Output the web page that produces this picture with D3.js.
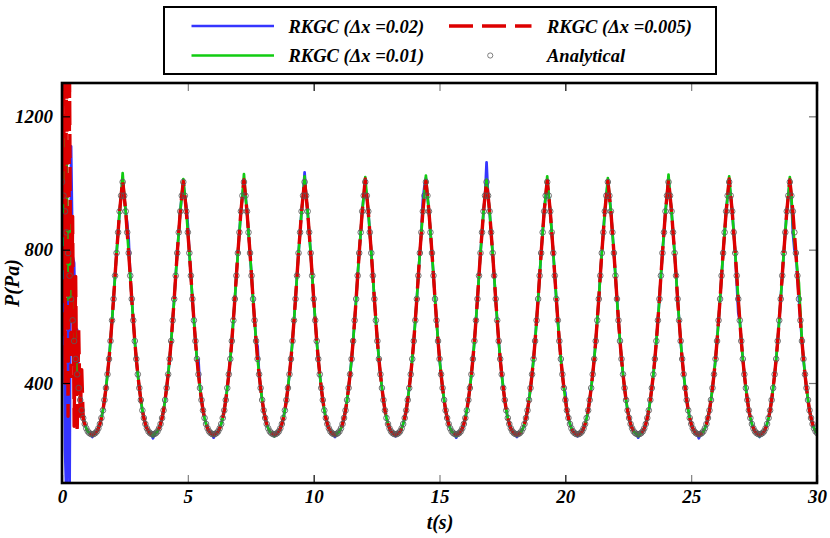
<!DOCTYPE html>
<html>
<head>
<meta charset="utf-8">
<script src="https://cdn.jsdelivr.net/npm/d3@7"></script>
<style>
  body { margin: 0; background: #fff; }
  svg text { font-family: "Liberation Serif", "Times New Roman", serif; font-weight: bold; font-style: italic; }
</style>
</head>
<body>
<div id="container"></div>
<script>
let w = 830;
let h = 538;

// every series is sampled on the same time grid: t = i * dt (s)
let dt = 0.06025;

let xTicks = [0, 5, 10, 15, 20, 25, 30];
let xMajor = [0, 10, 20, 30];
let yTicks = [400, 800, 1200];

// pressure values P(Pa), one row per cycle
let analytical = [
  1003,962,915,852,790,722,652,588,526,472,426,385,349,318,295,277,264,255,250,247,246,247,250,255,264,277,295,318,349,385,426,472,526,588,652,722,790,852,915,962,
  1003,962,915,852,790,722,652,588,526,472,426,385,349,318,295,277,264,255,250,247,246,247,250,255,264,277,295,318,349,385,426,472,526,588,652,722,790,852,915,962,
  1003,962,915,852,790,722,652,588,526,472,426,385,349,318,295,277,264,255,250,247,246,247,250,255,264,277,295,318,349,385,426,472,526,588,652,722,790,852,915,962,
  1003,962,915,852,790,722,652,588,526,472,426,385,349,318,295,277,264,255,250,247,246,247,250,255,264,277,295,318,349,385,426,472,526,588,652,722,790,852,915,962,
  1003,962,915,852,790,722,652,588,526,472,426,385,349,318,295,277,264,255,250,247,246,247,250,255,264,277,295,318,349,385,426,472,526,588,652,722,790,852,915,962,
  1003,962,915,852,790,722,652,588,526,472,426,385,349,318,295,277,264,255,250,247,246,247,250,255,264,277,295,318,349,385,426,472,526,588,652,722,790,852,915,962,
  1003,962,915,852,790,722,652,588,526,472,426,385,349,318,295,277,264,255,250,247,246,247,250,255,264,277,295,318,349,385,426,472,526,588,652,722,790,852,915,962,
  1003,962,915,852,790,722,652,588,526,472,426,385,349,318,295,277,264,255,250,247,246,247,250,255,264,277,295,318,349,385,426,472,526,588,652,722,790,852,915,962,
  1003,962,915,852,790,722,652,588,526,472,426,385,349,318,295,277,264,255,250,247,246,247,250,255,264,277,295,318,349,385,426,472,526,588,652,722,790,852,915,962,
  1003,962,915,852,790,722,652,588,526,472,426,385,349,318,295,277,264,255,250,247,246,247,250,255,264,277,295,318,349,385,426,472,526,588,652,722,790,852,915,962,
  1003,962,915,852,790,722,652,588,526,472,426,385,349,318,295,277,264,255,250,247,246,247,250,255,264,277,295,318,349,385,426,472,526,588,652,722,790,852,915,962,
  1003,962,915,852,790,722,652,588,526,472,426,385,349,318,295,277,264,255,250,247,246,247,250,255,264,277,295,318,349,385,426,472,526,588,652,722,790,852,915,962,
  1003,962,915,852,790,722,652,588,526,472,426,385,349,318,295,277,264,255,250
];

let rkgc02 = [
  1000,1000,200,40,700,60,1110,780,760,540,560,400,380,330,300,277,264,255,250,247,238,247,250,255,264,277,295,318,349,385,426,472,526,588,652,722,790,852,915,962,
  1005,962,915,880,830,722,652,588,526,472,426,385,349,318,295,277,264,255,250,247,234,247,250,255,264,277,295,318,349,385,426,472,526,588,652,722,790,852,915,962,
  1003,962,930,875,790,722,652,588,526,472,470,385,349,318,295,277,264,255,250,247,236,247,250,255,264,277,295,318,349,385,426,472,526,588,652,722,790,852,915,962,
  1003,962,915,852,790,722,652,588,526,510,426,385,349,318,295,277,264,255,250,247,240,247,250,255,264,277,295,318,349,385,426,472,526,588,652,722,790,852,915,962,
  1032,962,915,852,790,722,652,588,526,472,426,385,349,318,295,277,264,255,250,247,238,247,250,255,264,277,295,318,349,385,426,472,526,588,652,722,790,852,915,962,
  990,962,915,852,790,722,652,588,526,472,426,385,349,318,295,277,264,255,250,247,240,247,250,255,264,277,295,318,349,385,426,472,526,588,652,722,790,852,950,990,
  1015,962,915,852,790,722,652,588,526,472,426,385,349,318,295,277,264,255,250,247,236,247,250,255,264,277,295,318,349,385,426,472,526,588,652,722,790,852,915,962,
  1062,962,915,852,790,722,652,588,526,472,426,385,349,318,295,277,264,255,250,247,238,247,250,255,264,277,295,318,349,385,426,472,526,588,652,722,790,852,915,962,
  1003,962,915,852,790,722,652,588,526,472,426,385,370,318,295,277,264,255,250,247,240,247,250,255,264,277,295,318,349,385,426,472,526,588,652,722,790,852,915,962,
  1003,962,915,852,790,722,652,588,526,472,426,385,349,318,295,277,264,255,250,247,236,247,250,255,264,277,295,318,349,385,426,472,526,588,652,722,790,852,915,962,
  1010,962,915,852,790,722,652,588,526,472,426,385,349,318,295,277,264,255,250,247,234,247,250,255,264,277,295,318,349,385,426,472,526,588,652,722,790,852,915,962,
  1003,962,915,852,790,700,610,588,526,472,426,385,349,318,295,277,264,255,250,247,238,247,250,255,264,277,295,318,349,385,426,472,526,588,652,722,790,852,915,962,
  1003,962,850,800,790,722,652,588,526,472,426,385,349,318,295,277,264,255,250
];

let rkgc01 = [
  1000,1150,700,1100,650,900,600,720,520,560,440,420,360,330,298,277,264,255,250,247,242,247,250,255,264,277,295,318,349,385,426,472,526,588,652,722,790,852,915,962,
  1030,962,915,852,790,722,652,588,526,472,426,385,349,318,295,277,264,255,250,247,240,247,250,255,264,277,295,318,349,385,426,472,526,588,652,722,790,852,915,962,
  1012,962,915,852,790,722,652,588,526,472,426,385,349,318,295,277,264,255,250,247,242,247,250,255,264,277,295,318,349,385,426,472,526,588,652,722,790,852,915,962,
  1027,962,915,852,790,722,652,588,526,472,426,385,349,318,295,277,264,255,250,247,240,247,250,255,264,277,295,318,349,385,426,472,526,588,652,722,790,852,915,962,
  1020,962,915,852,790,722,652,588,526,472,426,385,349,318,295,277,264,255,250,247,244,247,250,255,264,277,295,318,349,385,426,472,526,588,652,722,790,852,915,962,
  1018,962,915,852,790,722,652,588,526,472,426,385,349,318,295,277,264,255,250,247,242,247,250,255,264,277,295,318,349,385,426,472,526,588,652,722,790,852,915,962,
  1022,962,915,852,790,722,652,588,526,472,426,385,349,318,295,277,264,255,250,247,240,247,250,255,264,277,295,318,349,385,426,472,526,588,652,722,790,852,915,962,
  1010,962,915,852,790,722,652,588,526,472,426,385,349,318,295,277,264,255,250,247,244,247,250,255,264,277,295,318,349,385,426,472,526,588,652,722,790,852,915,962,
  1020,962,915,852,790,722,652,588,526,472,426,385,349,318,295,277,264,255,250,247,242,247,250,255,264,277,295,318,349,385,426,472,526,588,652,722,790,852,915,962,
  1015,962,915,852,790,722,652,588,526,472,426,385,349,318,295,277,264,255,250,247,240,247,250,255,264,277,295,318,349,385,426,472,526,588,652,722,790,852,915,962,
  1025,962,915,852,790,722,652,588,526,472,426,385,349,318,295,277,264,255,250,247,242,247,250,255,264,277,295,318,349,385,426,472,526,588,652,722,790,852,915,962,
  1020,962,915,852,790,722,652,588,526,472,426,385,349,318,295,277,264,255,250,247,240,247,250,255,264,277,295,318,349,385,426,472,526,588,652,722,790,852,915,962,
  1018,962,880,822,790,735,700,610,526,472,426,385,349,318,295,277,264,255,250
];

let rkgc005 = [
  1000,1400,400,1400,300,1300,420,900,270,720,250,560,300,440,290,277,264,255,250,247,244,247,250,255,264,277,295,318,349,385,426,472,526,588,652,722,790,852,915,962,
  1008,962,915,852,790,722,652,588,526,472,426,385,349,318,295,277,264,255,250,247,245,247,250,255,264,277,295,318,349,385,426,472,526,588,652,722,790,852,915,962,
  1005,962,915,852,790,722,652,588,526,472,426,385,349,318,295,277,264,255,250,247,244,247,250,255,264,277,295,318,349,385,426,472,526,588,652,722,790,852,915,962,
  1010,962,915,852,790,722,652,588,526,472,426,385,349,318,295,277,264,255,250,247,246,247,250,255,264,277,295,318,349,385,426,472,526,588,652,722,790,852,915,962,
  1004,962,915,852,790,722,652,588,526,472,426,385,349,318,295,277,264,255,250,247,245,247,250,255,264,277,295,318,349,385,426,472,526,588,652,722,790,852,915,962,
  1012,962,915,852,790,722,652,588,526,472,426,385,349,318,295,277,264,255,250,247,244,247,250,255,264,277,295,318,349,385,426,472,526,588,652,722,790,852,915,962,
  1006,962,915,852,790,722,652,588,526,472,426,385,349,318,295,277,264,255,250,247,246,247,250,255,264,277,295,318,349,385,426,472,526,588,652,722,790,852,915,962,
  1000,962,915,852,790,722,652,588,526,472,426,385,349,318,295,277,264,255,250,247,245,247,250,255,264,277,295,318,349,385,426,472,526,588,652,722,790,852,915,962,
  1008,962,915,852,790,722,652,588,526,472,426,385,349,318,295,277,264,255,250,247,244,247,250,255,264,277,295,318,349,385,426,472,526,588,652,722,790,852,915,962,
  1006,962,915,852,790,722,652,588,526,472,426,385,349,318,295,277,264,255,250,247,246,247,250,255,264,277,295,318,349,385,426,472,526,588,652,722,790,852,915,962,
  1010,962,915,852,790,722,652,588,526,472,426,385,349,318,295,277,264,255,250,247,245,247,250,255,264,277,295,318,349,385,426,472,526,588,652,722,790,852,915,962,
  1012,962,915,852,790,722,652,588,526,472,426,385,349,318,295,277,264,255,250,247,244,247,250,255,264,277,295,318,349,385,426,472,526,588,652,722,790,852,915,962,
  1010,962,915,852,790,722,652,588,526,472,426,385,349,318,295,277,264,255,250
];

// drawing order: blue, green, red dashed, then the analytical circles
let series = [
  {name: "RKGC (\u0394x =0.02)",  values: rkgc02,  color: "#3535ff", width: 2.7, dash: null},
  {name: "RKGC (\u0394x =0.01)",  values: rkgc01,  color: "#11cc11", width: 2.7, dash: null},
  {name: "RKGC (\u0394x =0.005)", values: rkgc005, color: "#dd0000", width: 3.4, dash: "24,9"}
];

let plotLeft = 62, plotRight = 817, plotTop = 83, plotBottom = 483;

let xScale = d3.scaleLinear().domain([0, 30]).range([plotLeft, plotRight]);
let yScale = d3.scaleLinear().domain([100, 1300]).range([plotBottom, plotTop]);

let viz = d3.select("#container")
  .append("svg")
    .attr("width", w)
    .attr("height", h)
    .style("background-color", "#fff")
;

viz.append("clipPath").attr("id", "plotclip")
  .append("rect")
    .attr("x", plotLeft)
    .attr("y", plotTop)
    .attr("width", plotRight - plotLeft)
    .attr("height", plotBottom - plotTop);

let plot = viz.append("g").attr("clip-path", "url(#plotclip)");

let line = d3.line()
  .x(function(d, i){ return xScale(i * dt); })
  .y(function(d){ return yScale(d); });

series.forEach(function(s){
  plot.append("path")
    .datum(s.values)
    .attr("d", line)
    .attr("fill", "none")
    .attr("stroke", s.color)
    .attr("stroke-width", s.width)
    .attr("stroke-dasharray", s.dash)
    .attr("stroke-linejoin", "round");
});

plot.selectAll(".analytical").data(analytical).enter()
  .append("circle")
    .attr("class", "analytical")
    .attr("cx", function(d, i){ return xScale(i * dt); })
    .attr("cy", function(d){ return yScale(d); })
    .attr("r", 2.8)
    .attr("fill", "none")
    .attr("stroke", "#5a5a5a")
    .attr("stroke-width", 0.85);

// axes, ticks pointing inwards
function styleAxis(g, colorFn, size){
  g.select(".domain").remove();
  g.attr("font-family", null).attr("font-size", size);
  g.selectAll(".tick line").attr("stroke", colorFn).attr("stroke-width", 1.2);
  g.selectAll(".tick text").attr("fill", "#000");
}
function tickColor(d){ return xMajor.indexOf(d) >= 0 ? "#000" : "#808080"; }

let xBottom = viz.append("g")
  .attr("transform", "translate(0," + plotBottom + ")")
  .call(d3.axisBottom(xScale).tickValues(xTicks).tickSize(-8).tickPadding(7).tickFormat(d3.format("d")));
styleAxis(xBottom, tickColor, 19);

let xTop = viz.append("g")
  .attr("transform", "translate(0," + plotTop + ")")
  .call(d3.axisTop(xScale).tickValues(xTicks).tickSize(-8).tickFormat(""));
styleAxis(xTop, tickColor, 19);

let yLeft = viz.append("g")
  .attr("transform", "translate(" + plotLeft + ",0)")
  .call(d3.axisLeft(yScale).tickValues(yTicks).tickSize(-8).tickPadding(9).tickFormat(d3.format("d")));
styleAxis(yLeft, function(){ return "#000"; }, 19);

let yRight = viz.append("g")
  .attr("transform", "translate(" + plotRight + ",0)")
  .call(d3.axisRight(yScale).tickValues(yTicks).tickSize(-8).tickFormat(""));
styleAxis(yRight, function(){ return "#707070"; }, 19);

viz.append("rect")
  .attr("x", plotLeft)
  .attr("y", plotTop)
  .attr("width", plotRight - plotLeft)
  .attr("height", plotBottom - plotTop)
  .attr("fill", "none")
  .attr("stroke", "#000")
  .attr("stroke-width", 2.6);

viz.append("text")
  .attr("x", 440)
  .attr("y", 529)
  .attr("text-anchor", "middle")
  .attr("font-size", 20)
  .text("t(s)");

viz.append("text")
  .attr("transform", "translate(19,283) rotate(-90)")
  .attr("text-anchor", "middle")
  .attr("font-size", 20)
  .text("P(Pa)");

// legend
let legend = viz.append("g").attr("class", "legend");
legend.append("rect")
  .attr("x", 164)
  .attr("y", 7)
  .attr("width", 552)
  .attr("height", 67)
  .attr("fill", "#fff")
  .attr("stroke", "#000")
  .attr("stroke-width", 2);

let legendCols = [{x1: 191.5, x2: 274, tx: 288.5}, {x1: 449, x2: 531.5, tx: 547}];
let legendRows = [26, 55.5];
let legendItems = [
  {s: series[0], col: 0, row: 0},
  {s: series[1], col: 0, row: 1},
  {s: series[2], col: 1, row: 0},
  {s: null, name: "Analytical", col: 1, row: 1}
];

legendItems.forEach(function(item){
  let c = legendCols[item.col];
  let y = legendRows[item.row];
  if(item.s){
    legend.append("line")
      .attr("x1", c.x1).attr("x2", c.x2)
      .attr("y1", y).attr("y2", y)
      .attr("stroke", item.s.color)
      .attr("stroke-width", item.s.width)
      .attr("stroke-dasharray", item.s.dash);
  }else{
    legend.append("circle")
      .attr("cx", (c.x1 + c.x2) / 2)
      .attr("cy", y)
      .attr("r", 2.6)
      .attr("fill", "none")
      .attr("stroke", "#606060")
      .attr("stroke-width", 0.8);
  }
  legend.append("text")
    .attr("x", c.tx)
    .attr("y", y + 6.5)
    .attr("font-size", 18.5)
    .text(item.s ? item.s.name : item.name);
});
</script>
</body>
</html>
